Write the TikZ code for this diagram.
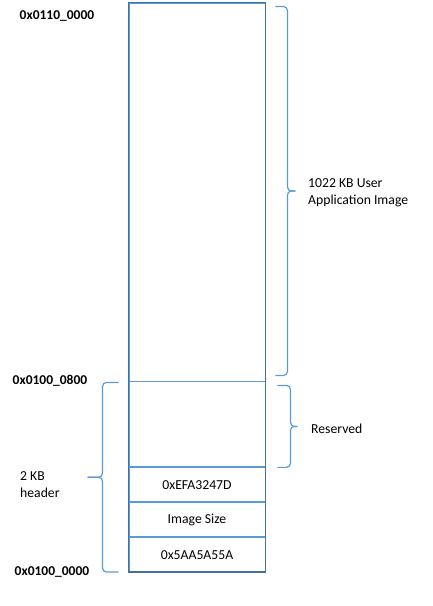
\documentclass[tikz,border=0pt]{standalone}
\usepackage{fontspec}
\setmainfont{Carlito}
\usetikzlibrary{positioning,calc}
\definecolor{boxline}{HTML}{41719C}
\definecolor{cellline}{HTML}{5B9BD5}

\begin{document}
\begin{tikzpicture}[x=1pt,y=-1pt,
  cell/.style={draw=cellline,line width=0.9pt,minimum width=136pt,inner sep=0pt,font=\fontsize{13.7}{17}\selectfont},
  addr/.style={font=\fontsize{13.5}{17}\selectfont\bfseries},
  note/.style={align=left,anchor=west,inner sep=0pt,font=\fontsize{13.7}{17}\selectfont},
  curly/.style={draw=cellline,line width=1.2pt,rounded corners=4pt}]
\useasboundingbox (0,0) rectangle (432,606);

% memory cells
\node[cell,minimum height=378pt] (app) at (197,192) {};
\node[cell,minimum height=85pt,below=0pt of app] (res) {};
\node[cell,minimum height=34pt,below=0pt of res] (magic2) {0xEFA3247D};
\node[cell,minimum height=34pt,below=0pt of magic2] (size) {\raisebox{-3pt}{Image Size}};
\node[cell,minimum height=34pt,below=0pt of size] (magic1) {0x5AA5A55A};
\draw[boxline,line width=1.3pt] (app.north west) rectangle (magic1.south east);

% addresses
\node[addr] (top) at (57,16) {0x0110\_0000};
\node[addr] (mid) at (50,381) {0x0100\_0800};
\node[addr] (bot) at (52,572) {0x0100\_0000};

% braces
\coordinate (a1) at ([shift={(10,4)}]app.north east);
\coordinate (a2) at ([shift={(10,-6)}]app.south east);
\coordinate (atip) at ($(a1)!0.5!(a2)+(20,0)$);
\draw[curly] (a1) -| ([xshift=-8]atip) -- (atip);
\draw[curly] (a2) -| ([xshift=-8]atip) -- (atip);

\coordinate (r1) at ([shift={(12,4)}]res.north east);
\coordinate (r2) at ([shift={(12,0)}]res.south east);
\coordinate (rtip) at ($(r1)!0.5!(r2)+(20,0)$);
\draw[curly] (r1) -| ([xshift=-7]rtip) -- (rtip);
\draw[curly] (r2) -| ([xshift=-7]rtip) -- (rtip);

\coordinate (h1) at ([shift={(-10,1)}]res.north west);
\coordinate (h2) at ([shift={(-10,0)}]magic1.south west);
\coordinate (htip) at ($(h1)!0.5!(h2)+(-31,0)$);
\draw[curly] (h1) -| ([xshift=15]htip) -- (htip);
\draw[curly] (h2) -| ([xshift=15]htip) -- (htip);

\node[note] (applbl) at (308,193) {1022 KB User\\Application Image};
\node[note] (reslbl) at (311,429) {Reserved};
\node[note] (hdrlbl) at (20,485) {2 KB\\header};
\end{tikzpicture}
\end{document}
